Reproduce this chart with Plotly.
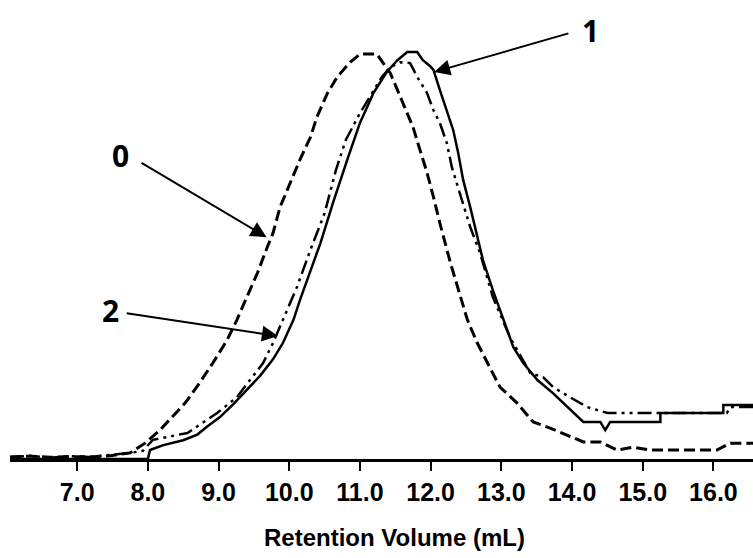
import plotly.graph_objects as go

# Retention volume (mL) and normalized detector response (%)
vol_0 = [6.05, 6.34, 6.62, 6.90, 7.18, 7.47, 7.75, 7.96, 8.17, 8.39, 8.53, 8.74, 8.92, 9.12, 9.26, 9.40,
         9.55, 9.69, 9.77, 9.87, 10.01, 10.15, 10.30, 10.39, 10.54, 10.68, 10.86, 11.00, 11.24, 11.33,
         11.43, 11.53, 11.61, 11.75, 11.85, 11.95, 12.04, 12.13, 12.28, 12.42, 12.52, 12.66, 12.80,
         12.98, 13.22, 13.45, 13.69, 13.93, 14.16, 14.40, 14.64, 14.86, 15.10, 15.35, 15.57, 16.05,
         16.24, 16.56]
resp_0 = [0.5, 0.7, 0.4, 0.6, 0.5, 0.8, 1.5, 3.9, 7.1, 11.3, 13.8, 18.9, 23.6, 29.2, 34.2, 39.8,
          45.7, 52.1, 55.5, 61.9, 67.8, 73.5, 79.1, 84.0, 89.9, 93.9, 97.5, 99.5, 99.5, 97.3,
          94.8, 90.7, 87.5, 81.6, 75.9, 70.3, 64.4, 58.0, 48.2, 39.8, 34.2, 28.5, 23.6,
          17.7, 13.8, 9.1, 7.6, 5.9, 4.2, 4.2, 2.2, 2.9, 2.2, 2.2, 2.2, 2.2,
          3.9, 3.9]

vol_1 = [6.05, 8.00, 8.03, 8.22, 8.50, 8.70, 8.84, 9.02, 9.21, 9.40, 9.59, 9.77, 9.91, 10.06, 10.15,
         10.44, 10.62, 10.82, 11.00, 11.19, 11.38, 11.53, 11.67, 11.81, 11.89, 11.99, 12.04, 12.13,
         12.23, 12.32, 12.39, 12.46, 12.56, 12.66, 12.74, 12.88, 13.03, 13.17, 13.31, 13.51, 13.73,
         13.93, 14.16, 14.40, 14.47, 14.54, 15.25, 15.25, 16.14, 16.14, 16.56]
resp_1 = [0.0, 0.0, 2.2, 3.4, 4.6, 6.0, 8.0, 10.3, 13.5, 17.0, 20.5, 24.5, 28.5, 34.2, 39.0,
          53.0, 63.0, 73.5, 82.6, 89.9, 95.1, 98.0, 100.0, 100.0, 98.0, 96.6, 95.6, 90.7,
          85.7, 80.8, 75.2, 68.6, 61.9, 54.5, 48.9, 41.5, 34.2, 27.5, 23.6, 19.4, 16.2,
          12.8, 9.1, 9.1, 7.1, 9.1, 9.1, 11.3, 11.3, 13.3, 13.3]

vol_2 = [6.05, 6.34, 6.62, 6.90, 7.18, 7.47, 7.75, 7.93, 8.07, 8.56, 8.98, 9.26, 9.45, 9.63, 9.77,
         9.91, 10.01, 10.11, 10.30, 10.50, 10.66, 10.80, 11.00, 11.20, 11.31, 11.43, 11.57, 11.71,
         11.81, 11.95, 12.04, 12.13, 12.23, 12.30, 12.37, 12.46, 12.56, 12.70, 12.88, 13.12, 13.41,
         13.59, 13.73, 13.97, 14.21, 14.50, 16.19, 16.24, 16.56]
resp_2 = [0.5, 0.8, 0.3, 0.7, 0.5, 1.0, 1.5, 2.0, 4.7, 6.4, 11.3, 15.2, 19.4, 23.6, 28.5,
          34.2, 38.3, 42.3, 51.4, 60.4, 71.0, 78.4, 85.0, 90.7, 93.9, 96.3, 97.5, 97.3,
          93.9, 89.9, 85.7, 82.6, 77.6, 71.7, 67.8, 62.9, 57.0, 50.6, 39.8, 30.0, 21.1,
          20.1, 17.7, 15.2, 12.8, 11.3, 11.3, 12.8, 12.8]

tick_vals = [7, 8, 9, 10, 11, 12, 13, 14, 15, 16]
tick_text = ["7.0", "8.0", "9.0", "10.0", "11.0", "12.0", "13.0", "14.0", "15.0", "16.0"]
x_title = "Retention Volume (mL)"

# label annotations: (text, x, y) and arrows: (head x, head y, tail x, tail y)
labels = [("0", 7.62, 74.7), ("1", 14.26, 105.4), ("2", 7.47, 36.6)]
arrows = [(9.68, 54.5, 7.89, 73.0), (12.05, 95.1, 13.97, 104.7), (9.84, 30.2, 7.68, 35.9)]

fig = go.Figure()
fig.add_trace(go.Scatter(x=vol_0, y=resp_0, mode="lines", name="0",
                         line=dict(color="black", width=3, dash="11px,5px")))
fig.add_trace(go.Scatter(x=vol_1, y=resp_1, mode="lines", name="1",
                         line=dict(color="black", width=2.5)))
fig.add_trace(go.Scatter(x=vol_2, y=resp_2, mode="lines", name="2",
                         line=dict(color="black", width=2.5, dash="14px,5px,3px,5px,3px,5px")))

annotations = []
for t, x, y in labels:
    annotations.append(dict(x=x, y=y, xref="x", yref="y", text=t, showarrow=False,
                            font=dict(family="Open Sans", size=30, color="black", weight="bold")))
for hx, hy, tx, ty in arrows:
    annotations.append(dict(x=hx, y=hy, ax=tx, ay=ty, xref="x", yref="y", axref="x", ayref="y",
                            text="", showarrow=True, arrowhead=2, arrowsize=1.6, arrowwidth=2,
                            arrowcolor="black"))
annotations.append(dict(x=0.518, y=-0.172, xref="paper", yref="paper", text=x_title,
                        showarrow=False, xanchor="center", yanchor="middle",
                        font=dict(family="Liberation Sans, Arial", size=24, color="black",
                                  weight="bold")))

fig.update_layout(
    width=753, height=558,
    margin=dict(l=10, r=0, t=0, b=99),
    paper_bgcolor="white", plot_bgcolor="white",
    showlegend=False,
    annotations=annotations,
    xaxis=dict(range=[6.05, 16.56], showgrid=False, zeroline=False, showline=True,
               linecolor="black", linewidth=2.5, ticks="outside", ticklen=9, tickwidth=1.5,
               tickcolor="black", tickvals=tick_vals, ticktext=tick_text,
               tickfont=dict(family="Liberation Sans, Arial", size=25, color="black", weight="bold")),
    yaxis=dict(range=[0, 112.8], visible=False),
)

fig.write_html("out.html", config={"displayModeBar": False},
               post_script="document.body.style.margin='0';document.body.style.overflow='hidden';")
